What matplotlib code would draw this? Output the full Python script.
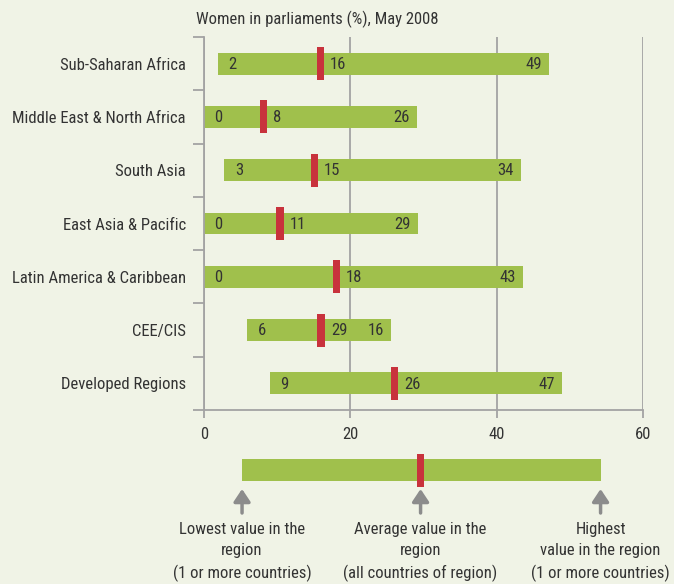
import matplotlib
matplotlib.use("Agg")
import matplotlib.pyplot as plt

plt.rcParams['font.family'] = ['Roboto Condensed', 'Archivo Narrow', 'Liberation Sans', 'DejaVu Sans']

# datos
regiones = ["Sub-Saharan Africa", "Middle East & North Africa", "South Asia",
            "East Asia & Pacific", "Latin America & Caribbean", "CEE/CIS",
            "Developed Regions"]
minimos = [1.9, 0.0, 2.8, 0.0, 0.0, 5.9, 9.0]
promedios = [15.9, 8.1, 15.1, 10.4, 18.1, 16.0, 26.0]
maximos = [47.1, 29.1, 43.3, 29.2, 43.6, 25.6, 48.9]
etiq_min = ["2", "0", "3", "0", "0", "6", "9"]
etiq_prom = ["16", "8", "15", "11", "18", "29", "26"]
etiq_max = ["49", "26", "34", "29", "43", "16", "47"]
ticks_x = [0, 20, 40, 60]

# estilos
fondo = "#f0f3e6"
verde = "#a0c04c"
rojo = "#c8323c"
gris = "#a3a3a3"
texto = "#333333"
fs = 12

W, H = 674, 584
fig = plt.figure(figsize=(W / 100, H / 100), dpi=100, facecolor=fondo)

izq, der, arr, aba = 204, 643, 37, 410
ax = fig.add_axes([izq / W, 1 - aba / H, (der - izq) / W, (aba - arr) / H])
ax.set_facecolor(fondo)
ax.set_xlim(0, 60)
ax.set_ylim(len(regiones) - 0.5, -0.5)

y = list(range(len(regiones)))
ax.barh(y, [hi - lo for lo, hi in zip(minimos, maximos)], left=minimos,
        height=0.41, color=verde, zorder=2)
ax.barh(y, 1.0, left=[p - 0.5 for p in promedios], height=0.62,
        color=rojo, zorder=3)

for i in y:
    ax.annotate(etiq_min[i], (minimos[i], i), xytext=(7.5, -0.5), textcoords="offset points",
                ha="left", va="center", fontsize=fs, color=texto, zorder=4)
    ax.annotate(etiq_prom[i], (promedios[i], i), xytext=(7, -0.5), textcoords="offset points",
                ha="left", va="center", fontsize=fs, color=texto, zorder=4)
    ax.annotate(etiq_max[i], (maximos[i], i), xytext=(-5, -0.5), textcoords="offset points",
                ha="right", va="center", fontsize=fs, color=texto, zorder=4)

ax.set_yticks(y)
ax.set_yticklabels(regiones, fontsize=fs, color=texto)
ax.tick_params(axis="y", which="major", length=0, pad=13)
ax.set_yticks([i - 0.5 for i in range(len(regiones) + 1)], minor=True)
ax.tick_params(axis="y", which="minor", length=8, width=1.3, color=gris, direction="out")

ax.set_xticks(ticks_x)
ax.set_xticklabels([str(t) for t in ticks_x], fontsize=fs, color=texto)
ax.tick_params(axis="x", length=6, width=1.3, color=gris, pad=6.5)
ax.xaxis.grid(True, color=gris, lw=1.3, zorder=1)

for lado in ["top", "right"]:
    ax.spines[lado].set_visible(False)
for lado in ["left", "bottom"]:
    ax.spines[lado].set_color(gris)
    ax.spines[lado].set_linewidth(1.3)

fig.text(196 / W, 1 - 19 / H, "Women in parliaments (%), May 2008", fontsize=fs,
         color=texto, ha="left", va="center")

# clave de lectura
clave = fig.add_axes([izq / W, 0, (der - izq) / W, 1 - 445 / H])
clave.set_xlim(0, 60)
clave.set_ylim(H - 445, 0)
clave.axis("off")
clave.patch.set_alpha(0)

k_min, k_prom, k_max = 5.2, 29.6, 54.2
clave.barh(470 - 445, k_max - k_min, left=k_min, height=22, color=verde, zorder=2)
clave.barh(470 - 445, 1.0, left=k_prom - 0.5, height=33, color=rojo, zorder=3)

notas = ["Lowest value in the\nregion\n(1 or more countries)",
         "Average value in the\nregion\n(all countries of region)",
         "Highest\nvalue in the region\n(1 or more countries)"]
for xk, nota in zip([k_min, k_prom, k_max], notas):
    clave.annotate("", xy=(xk, 489 - 445), xytext=(xk, 513 - 445),
                   arrowprops=dict(arrowstyle="-|>,head_length=0.75,head_width=0.5",
                                   color="#8c8c8c", lw=2.5, shrinkA=0, shrinkB=0))
    clave.text(xk, 552 - 445, nota, ha="center", va="center", fontsize=fs,
               color=texto, linespacing=1.5)

fig.savefig("out.png", dpi=100, facecolor=fondo)
